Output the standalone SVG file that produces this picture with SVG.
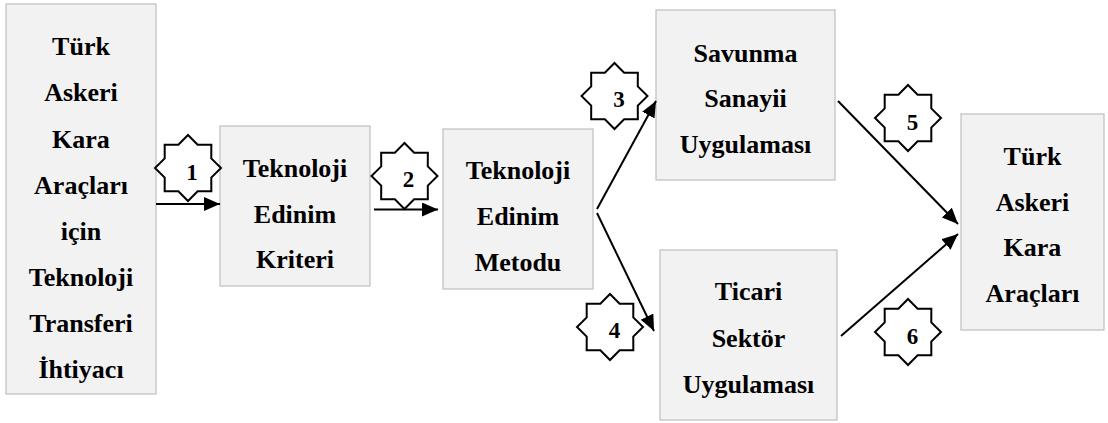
<svg xmlns="http://www.w3.org/2000/svg" width="1108" height="423" viewBox="0 0 1108 423">
<style>
.box{fill:#f2f2f2;stroke:#bfbfbf;stroke-width:1.2}
.c{stroke:#000;stroke-width:2;fill:none;marker-end:url(#ah)}
.star{fill:#fff;stroke:#000;stroke-width:2}
.t{font-family:'Liberation Serif','Times New Roman',serif;font-weight:bold;font-size:26px;text-anchor:middle;fill:#000}
.n{font-family:'Liberation Serif','Times New Roman',serif;font-weight:bold;font-size:23px;text-anchor:middle;fill:#000}
</style>
<defs>
<marker id="ah" markerUnits="userSpaceOnUse" markerWidth="17" markerHeight="15" refX="16" refY="7" orient="auto">
<path d="M0,0 L16,7 L0,14 Z" fill="#000"/>
</marker>
<path id="st" d="M0,-33 L9.64,-23.28 L23.33,-23.33 L23.28,-9.64 L33,0 L23.28,9.64 L23.33,23.33 L9.64,23.28 L0,33 L-9.64,23.28 L-23.33,23.33 L-23.28,9.64 L-33,0 L-23.28,-9.64 L-23.33,-23.33 L-9.64,-23.28 Z"/>
</defs>
<rect width="1108" height="423" fill="#fff"/>
<g id="n1">
<rect class="box" x="6" y="4" width="150" height="390"/>
<text class="t" font-family="Liberation Serif" x="81" y="55">Türk</text>
<text class="t" font-family="Liberation Serif" x="81" y="101">Askeri</text>
<text class="t" font-family="Liberation Serif" x="81" y="147.5">Kara</text>
<text class="t" font-family="Liberation Serif" x="81" y="193.5">Araçları</text>
<text class="t" font-family="Liberation Serif" x="81" y="239.5">için</text>
<text class="t" font-family="Liberation Serif" x="81" y="285.5">Teknoloji</text>
<text class="t" font-family="Liberation Serif" x="81" y="331.5">Transferi</text>
<text class="t" font-family="Liberation Serif" x="81" y="377.5">İhtiyacı</text>
</g>
<g id="n2">
<rect class="box" x="220" y="126" width="150" height="160"/>
<text class="t" font-family="Liberation Serif" x="295" y="177">Teknoloji</text>
<text class="t" font-family="Liberation Serif" x="295" y="222.5">Edinim</text>
<text class="t" font-family="Liberation Serif" x="295" y="268">Kriteri</text>
</g>
<g id="n3">
<rect class="box" x="443" y="129" width="150" height="160"/>
<text class="t" font-family="Liberation Serif" x="518" y="179">Teknoloji</text>
<text class="t" font-family="Liberation Serif" x="518" y="225">Edinim</text>
<text class="t" font-family="Liberation Serif" x="518" y="271">Metodu</text>
</g>
<g id="n4">
<rect class="box" x="656" y="10" width="179" height="170"/>
<text class="t" font-family="Liberation Serif" x="745.5" y="61.5">Savunma</text>
<text class="t" font-family="Liberation Serif" x="745.5" y="107">Sanayii</text>
<text class="t" font-family="Liberation Serif" x="745.5" y="152.5">Uygulaması</text>
</g>
<g id="n5">
<rect class="box" x="660" y="250" width="177" height="170"/>
<text class="t" font-family="Liberation Serif" x="748.5" y="300">Ticari</text>
<text class="t" font-family="Liberation Serif" x="748.5" y="346.5">Sektör</text>
<text class="t" font-family="Liberation Serif" x="748.5" y="392.5">Uygulaması</text>
</g>
<g id="n6">
<rect class="box" x="961" y="114" width="143" height="216"/>
<text class="t" font-family="Liberation Serif" x="1032.5" y="164.5">Türk</text>
<text class="t" font-family="Liberation Serif" x="1032.5" y="210.5">Askeri</text>
<text class="t" font-family="Liberation Serif" x="1032.5" y="256">Kara</text>
<text class="t" font-family="Liberation Serif" x="1032.5" y="301.5">Araçları</text>
</g>
<g id="connectors">
<line class="c" x1="156" y1="204" x2="220" y2="204"/>
<line class="c" x1="374" y1="209.5" x2="438" y2="209.5"/>
<line class="c" x1="597" y1="209" x2="656" y2="101"/>
<line class="c" x1="597" y1="213" x2="654" y2="331"/>
<line class="c" x1="838" y1="101" x2="958" y2="224"/>
<line class="c" x1="841" y1="336" x2="958" y2="234"/>
</g>
<g id="labels">
<g id="s1"><use href="#st" class="star" transform="translate(188,168)"/><text class="n" font-family="Liberation Serif" x="192" y="180">1</text></g>
<g id="s2"><use href="#st" class="star" transform="translate(404.5,176)"/><text class="n" font-family="Liberation Serif" x="408.5" y="187">2</text></g>
<g id="s3"><use href="#st" class="star" transform="translate(614.5,96)"/><text class="n" font-family="Liberation Serif" x="619" y="107">3</text></g>
<g id="s4"><use href="#st" class="star" transform="translate(610,327)"/><text class="n" font-family="Liberation Serif" x="614.5" y="338">4</text></g>
<g id="s5"><use href="#st" class="star" transform="translate(908,118)"/><text class="n" font-family="Liberation Serif" x="912.5" y="130">5</text></g>
<g id="s6"><use href="#st" class="star" transform="translate(908,332)"/><text class="n" font-family="Liberation Serif" x="912.5" y="344">6</text></g>
</g>
</svg>
